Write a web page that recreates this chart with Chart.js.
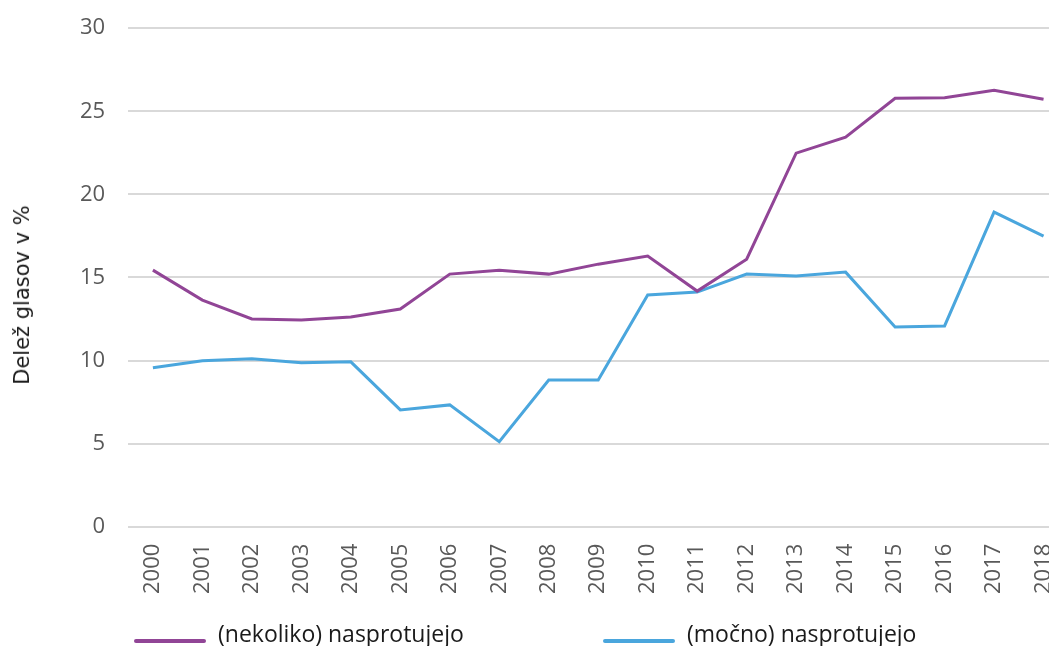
<!DOCTYPE html>
<html>
<head>
<meta charset="utf-8">
<script src="https://cdn.jsdelivr.net/npm/chart.js@4/dist/chart.umd.min.js"></script>
<style>
html,body{margin:0;padding:0;background:#fff;overflow:hidden;width:1049px;height:646px;}
#wrap{position:absolute;left:0;top:-8px;width:1079px;height:646px;}
#ytitle{position:absolute;left:22px;top:295px;transform:translate(-50%,-50%) rotate(-90deg);white-space:nowrap;font-family:'DejaVu Sans';font-size:21px;color:#1a1a1a;}
.item{position:absolute;white-space:nowrap;font-family:'Open Sans';font-size:23px;color:#1a1a1a;}
.sw{position:absolute;width:72px;height:4px;border-radius:2px;}
.tx{position:absolute;line-height:31px;white-space:nowrap;}
</style>
</head>
<body>
<div id="wrap"><canvas id="c"></canvas></div>
<div id="ytitle"></div>
<div id="legend"></div>
<script>
const years = ['2000','2001','2002','2003','2004','2005','2006','2007','2008','2009','2010','2011','2012','2013','2014','2015','2016','2017','2018'];
const seriesNames = ['(nekoliko) nasprotujejo', '(močno) nasprotujejo'];
const somewhatOppose = [15.44,13.64,12.5,12.44,12.62,13.1,15.2,15.44,15.2,15.8,16.29,14.18,16.1,22.48,23.44,25.78,25.81,26.26,25.72];
const stronglyOppose = [9.56,9.98,10.1,9.86,9.92,7.03,7.33,5.11,8.83,8.83,13.94,14.12,15.2,15.08,15.32,12.02,12.08,18.93,17.49];
const yTicks = [0,5,10,15,20,25,30];
const yTitle = 'Delež glasov v %';

const purple = '#914596';
const blue = '#4aa6dd';
const colors = [purple, blue];
const legendLeft = [134, 603];

const chart = new Chart(document.getElementById('c'), {
  type: 'line',
  data: {
    labels: years,
    datasets: [
      {label: seriesNames[0], data: somewhatOppose, borderColor: purple, backgroundColor: purple, borderWidth: 3, pointRadius: 0, tension: 0},
      {label: seriesNames[1], data: stronglyOppose, borderColor: blue, backgroundColor: blue, borderWidth: 3, pointRadius: 0, tension: 0}
    ]
  },
  options: {
    responsive: true,
    maintainAspectRatio: false,
    animation: false,
    layout: {padding: {top: 1, left: 57, right: 2, bottom: 35}},
    plugins: {
      tooltip: {enabled: false},
      legend: {display: false}
    },
    scales: {
      x: {
        offset: true,
        grid: {display: false},
        border: {display: false},
        ticks: {
          color: '#595959', maxRotation: 90, minRotation: 90, autoSkip: false, padding: 9,
          font: {family: 'Open Sans', size: 22}
        }
      },
      y: {
        min: 0, max: 30,
        afterBuildTicks: (axis) => { axis.ticks = yTicks.map(v => ({value: v})); },
        grid: {color: '#d9d9d9', lineWidth: 2, drawTicks: false},
        border: {display: false},
        ticks: {color: '#595959', padding: 23, font: {family: 'Open Sans', size: 22}}
      }
    }
  }
});

document.getElementById('ytitle').textContent = yTitle;
const leg = document.getElementById('legend');
chart.data.datasets.forEach((ds, i) => {
  const sw = document.createElement('div');
  sw.className = 'sw';
  sw.style.left = legendLeft[i] + 'px';
  sw.style.top = '639px';
  sw.style.background = colors[i];
  const tx = document.createElement('div');
  tx.className = 'item tx';
  tx.style.left = (legendLeft[i] + 84) + 'px';
  tx.style.top = '618px';
  tx.textContent = ds.label;
  leg.appendChild(sw); leg.appendChild(tx);
});
</script>
</body>
</html>
